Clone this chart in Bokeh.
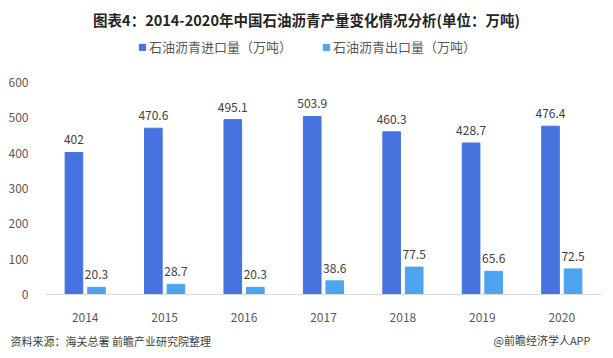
from bokeh.plotting import figure
from bokeh.models import ColumnDataSource, Range1d, Label, Legend, LegendItem, FactorRange
from bokeh.layouts import column
from bokeh.transform import dodge
from bokeh.embed import file_html
from bokeh.resources import INLINE
from bokeh.core.properties import value

years = ["2014", "2015", "2016", "2017", "2018", "2019", "2020"]
imports = [402, 470.6, 495.1, 503.9, 460.3, 428.7, 476.4]
exports = [20.3, 28.7, 20.3, 38.6, 77.5, 65.6, 72.5]
import_labels = ["402", "470.6", "495.1", "503.9", "460.3", "428.7", "476.4"]
export_labels = ["20.3", "28.7", "20.3", "38.6", "77.5", "65.6", "72.5"]
y_ticks = [0, 100, 200, 300, 400, 500, 600]

title_text = "图表4：2014-2020年中国石油沥青产量变化情况分析(单位：万吨)"
legend_import = "石油沥青进口量（万吨）"
legend_export = "石油沥青出口量（万吨）"
source_text = "资料来源：海关总署 前瞻产业研究院整理"
credit_text = "@前瞻经济学人APP"

CJK = "Noto Sans CJK SC"
IMPORT_COLOR = "#4673E0"
EXPORT_COLOR = "#4EA4EE"
W = 605


def blank(h):
    f = figure(width=W, height=h, x_range=Range1d(0, W), y_range=Range1d(0, h),
               output_backend="svg", toolbar_location=None,
               min_border_left=0, min_border_right=0, min_border_top=0, min_border_bottom=0)
    f.frame_align = False
    f.axis.visible = False
    f.xgrid.visible = False
    f.ygrid.visible = False
    f.outline_line_color = None
    return f


# header: title + legend
hdr = blank(72)
hdr.add_layout(Label(x=306, y=53, x_units="screen", y_units="screen", text=title_text,
                     text_align="center", text_baseline="middle", text_font=CJK,
                     text_font_size="14.5px", text_font_style="bold", text_color="#262626"))
# legend proxies (zero-height bars placed outside the visible range)
proxy = ColumnDataSource(data=dict(x=[-1000], top=[0]))
d1 = hdr.vbar(x="x", top="top", width=1, source=proxy, color=IMPORT_COLOR)
d2 = hdr.vbar(x="x", top="top", width=1, source=proxy, color=EXPORT_COLOR)
legend = Legend(items=[LegendItem(label=legend_import, renderers=[d1]),
                       LegendItem(label=legend_export, renderers=[d2])],
                location=(138, 16), orientation="horizontal",
                glyph_width=8, glyph_height=8, label_standoff=3, spacing=30,
                padding=0, margin=0, border_line_color=None, background_fill_alpha=0,
                label_text_font=CJK, label_text_font_size="13px", label_text_color="#595959",
                label_height=16)
hdr.add_layout(legend, "center")

# main chart
src = ColumnDataSource(data=dict(years=years, imports=imports, exports=exports,
                                 il=import_labels, el=export_labels))

p = figure(x_range=FactorRange(*years), y_range=Range1d(0, 600),
           width=W, height=258, output_backend="svg", toolbar_location=None,
           min_border_left=45, min_border_right=4, min_border_top=10, min_border_bottom=36)
p.frame_align = False

p.vbar(x=dodge("years", -0.142, range=p.x_range), top="imports", width=0.222,
       source=src, color=IMPORT_COLOR)
p.vbar(x=dodge("years", 0.142, range=p.x_range), top="exports", width=0.222,
       source=src, color=EXPORT_COLOR)

p.text(x=dodge("years", -0.142, range=p.x_range), y="imports", text="il", source=src,
       text_align="center", text_baseline="bottom", y_offset=-8,
       text_font=value(CJK), text_font_size="12px", text_color="#404040")
p.text(x=dodge("years", 0.142, range=p.x_range), y="exports", text="el", source=src,
       text_align="center", text_baseline="bottom", y_offset=-8,
       text_font=value(CJK), text_font_size="12px", text_color="#404040")

p.xgrid.visible = False
p.ygrid.visible = False
p.outline_line_color = None

p.yaxis.ticker = y_ticks
p.yaxis.axis_line_color = None
p.yaxis.major_tick_line_color = None
p.yaxis.minor_tick_line_color = None
p.yaxis.major_label_text_font = CJK
p.yaxis.major_label_text_font_size = "12px"
p.yaxis.major_label_text_color = "#595959"
p.yaxis.major_label_standoff = 11

p.xaxis.axis_line_color = "#D9D9D9"
p.xaxis.major_tick_line_color = None
p.xaxis.minor_tick_line_color = None
p.xaxis.major_label_text_font = CJK
p.xaxis.major_label_text_font_size = "12px"
p.xaxis.major_label_text_color = "#595959"
p.xaxis.major_label_standoff = 12
p.x_range.range_padding = 0

# footer
ftr = blank(26)
ftr.add_layout(Label(x=10, y=16, x_units="screen", y_units="screen", text=source_text,
                     text_align="left", text_baseline="middle", text_font=CJK,
                     text_font_size="11px", text_color="#404040"))
ftr.add_layout(Label(x=590, y=17, x_units="screen", y_units="screen", text=credit_text,
                     text_align="right", text_baseline="middle", text_font=CJK,
                     text_font_size="11px", text_color="#404040"))

layout = column(hdr, p, ftr, spacing=0)
open("out.html", "w").write(file_html(layout, INLINE))
